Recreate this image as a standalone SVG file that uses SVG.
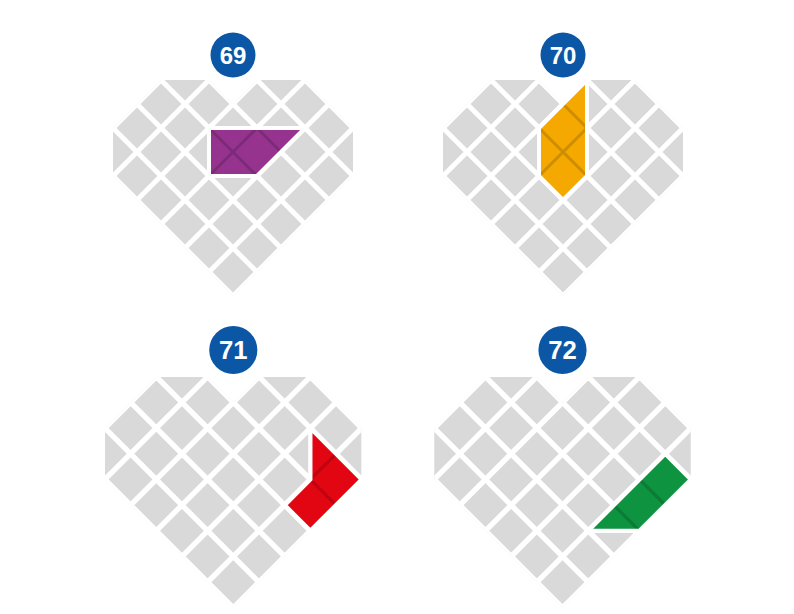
<svg xmlns="http://www.w3.org/2000/svg" xmlns:xlink="http://www.w3.org/1999/xlink" width="794" height="614" viewBox="0 0 794 614">
  <style>
    .cells { fill: #d9d9d9; }
    .gaps { fill: none; stroke: #ffffff; stroke-width: 5; }
    .badge { fill: #0b57a6; }
    .num { fill: #ffffff; font-family: "Liberation Sans", Arial, sans-serif; font-weight: bold; font-size: 24px; text-anchor: middle; }
    .edge { fill: none; stroke: #ffffff; stroke-width: 4; stroke-linejoin: miter; }
    .seam { fill: none; stroke: #000000; stroke-opacity: 0.16; stroke-width: 3; }
  </style>
  <defs>
    <clipPath id="heartClip">
      <polygon points="-120,24 -72,-24 -24,-24 0,0 24,-24 72,-24 120,24 120,72 0,192 -120,72"/>
    </clipPath>
    <g id="heart">
      <g clip-path="url(#heartClip)">
        <polygon class="cells" points="-120,24 -72,-24 -24,-24 0,0 24,-24 72,-24 120,24 120,72 0,192 -120,72"/>
        <path class="gaps" d="M-232,-40 L8,200 M-184,-40 L56,200 M-136,-40 L104,200 M-88,-40 L152,200 M-40,-40 L200,200 M8,-40 L248,200 M56,-40 L296,200 M-56,-40 L-296,200 M-8,-40 L-248,200 M40,-40 L-200,200 M88,-40 L-152,200 M136,-40 L-104,200 M184,-40 L-56,200 M232,-40 L-8,200"/>
      </g>
    </g>
  </defs>

  <g id="puzzle-69" transform="translate(233,104)">
    <use xlink:href="#heart" href="#heart"/>
    <circle class="badge" cx="0" cy="-49" r="22.5"/>
    <text class="num" x="0" y="-40.5">69</text>
    <g id="piece-69">
      <polygon fill="#95338f" points="-24,24 72,24 24,72 -24,72"/>
      <path class="seam" d="M24,24 L-24,72 M-24,24 L24,72 M24,24 L48,48"/>
      <polygon class="edge" points="-24,24 72,24 24,72 -24,72"/>
    </g>
  </g>

  <g id="puzzle-70" transform="translate(563,104)">
    <use xlink:href="#heart" href="#heart"/>
    <circle class="badge" cx="0" cy="-49" r="22.5"/>
    <text class="num" x="0" y="-40.5">70</text>
    <g id="piece-70">
      <polygon fill="#f5a800" points="-24,24 24,-24 24,72 0,96 -24,72"/>
      <path class="seam" d="M24,24 L-24,72 M-24,24 L24,72 M0,0 L24,24"/>
      <polygon class="edge" points="-24,24 24,-24 24,72 0,96 -24,72"/>
    </g>
  </g>

  <g id="puzzle-71" transform="translate(233.3,402.4) scale(1.07)">
    <use xlink:href="#heart" href="#heart"/>
    <circle class="badge" cx="0" cy="-49" r="22.5"/>
    <text class="num" x="0" y="-40.5">71</text>
    <g id="piece-71">
      <polygon fill="#e20613" points="72,24 120,72 72,120 48,96 72,72"/>
      <path class="seam" d="M96,48 L72,72 L96,96"/>
      <polygon class="edge" points="72,24 120,72 72,120 48,96 72,72"/>
    </g>
  </g>

  <g id="puzzle-72" transform="translate(562.5,402.4) scale(1.07)">
    <use xlink:href="#heart" href="#heart"/>
    <circle class="badge" cx="0" cy="-49" r="22.5"/>
    <text class="num" x="0" y="-40.5">72</text>
    <g id="piece-72">
      <polygon fill="#0e9340" points="96,48 120,72 72,120 24,120"/>
      <path class="seam" d="M72,72 L96,96 M48,96 L72,120"/>
      <polygon class="edge" points="96,48 120,72 72,120 24,120"/>
    </g>
  </g>

  <g id="connectors"/>
</svg>
